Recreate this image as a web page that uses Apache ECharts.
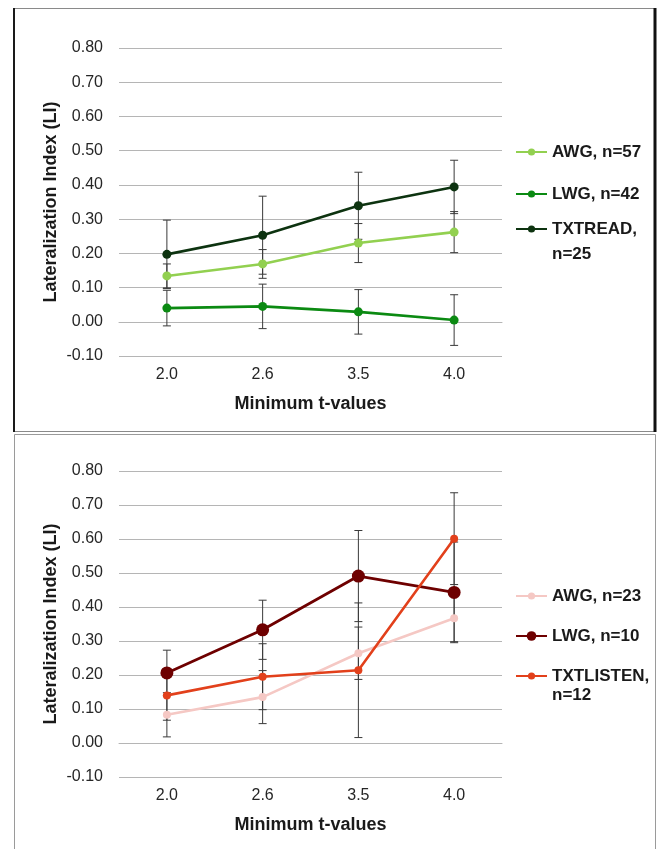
<!DOCTYPE html>
<html><head><meta charset="utf-8">
<script src="https://cdn.jsdelivr.net/npm/echarts@6/dist/echarts.min.js"></script>
<style>html,body{margin:0;padding:0;background:#fff}#c{width:659px;height:849px}</style>
</head><body><div id="c"></div>
<script>
// ---- data ----
const categories = ['2.0', '2.6', '3.5', '4.0'];
const xAxisTitle = 'Minimum t-values';
const yAxisTitle = 'Lateralization Index (LI)';
const yMin = -0.1, yMax = 0.8, yStep = 0.1;

// top panel (reading)
const readNames = ['AWG, n=57', 'LWG, n=42', 'TXTREAD,\nn=25'];
const readAWG = [0.134, 0.169, 0.230, 0.262];
const readAWGErr = [0.035, 0.042, 0.057, 0.060];
const readLWG = [0.040, 0.045, 0.029, 0.005];
const readLWGErr = [0.052, 0.065, 0.065, 0.074];
const readTXT = [0.197, 0.253, 0.339, 0.394];
const readTXTErr = [0.100, 0.114, 0.098, 0.078];

// bottom panel (listening)
const listenNames = ['AWG, n=23', 'LWG, n=10', 'TXTLISTEN,\nn=12'];
const listenAWG = [0.083, 0.135, 0.264, 0.367];
const listenAWGErr = [0.065, 0.078, 0.077, 0.069];
const listenLWG = [0.206, 0.333, 0.491, 0.443];
const listenLWGErr = [0.067, 0.087, 0.134, 0.148];
const listenTXT = [0.140, 0.195, 0.214, 0.601];
const listenTXTErr = [0.073, 0.097, 0.198, 0.135];

// ---- styling ----
const FONT = '"Liberation Sans", Arial, sans-serif';
const readColors = ['#92d050', '#0b8a12', '#0d3310'];
const listenColors = ['#f5c8c4', '#6e0000', '#e2401b'];
const gridColor = '#b5b5b5';

const chart = echarts.init(document.getElementById('c'), null, {renderer: 'canvas'});

function xAxisDef(gi) {
  return {
    type: 'category', gridIndex: gi, data: categories, boundaryGap: true,
    axisLine: {show: true, lineStyle: {color: gridColor, width: 1}},
    axisTick: {show: false},
    axisLabel: {fontFamily: FONT, fontSize: 16, color: '#262626', margin: 11},
    name: xAxisTitle, nameLocation: 'middle', nameGap: 39,
    nameTextStyle: {fontFamily: FONT, fontSize: 18, fontWeight: 'bold', color: '#1a1a1a'}
  };
}
function yAxisDef(gi) {
  return {
    type: 'value', gridIndex: gi, min: yMin, max: yMax, interval: yStep,
    axisLine: {show: false}, axisTick: {show: false},
    splitLine: {show: true, lineStyle: {color: gridColor, width: 1}},
    axisLabel: {fontFamily: FONT, fontSize: 16, color: '#262626', margin: 16,
      formatter: v => (Math.round(v * 100) / 100).toFixed(2)},
    name: yAxisTitle, nameLocation: 'middle', nameGap: 59, nameRotate: 90,
    nameMoveOverlap: false,
    nameTextStyle: {fontFamily: FONT, fontSize: 18, fontWeight: 'bold', color: '#1a1a1a'}
  };
}

function lineSeries(name, data, color, gi, size, width) {
  return {
    type: 'line', name: name, data: data, xAxisIndex: gi, yAxisIndex: gi,
    symbol: 'circle', symbolSize: size, z: 3,
    lineStyle: {color: color, width: width},
    itemStyle: {color: color},
    emphasis: {disabled: true}
  };
}

function errRender(params, api) {
  const x = api.value(0);
  const lo = api.coord([x, api.value(1)]);
  const hi = api.coord([x, api.value(2)]);
  const w = 4;
  const style = {stroke: '#3a3a3a', lineWidth: 1};
  return {type: 'group', children: [
    {type: 'line', shape: {x1: lo[0], y1: lo[1], x2: hi[0], y2: hi[1]}, style: style},
    {type: 'line', shape: {x1: lo[0] - w, y1: lo[1], x2: lo[0] + w, y2: lo[1]}, style: style},
    {type: 'line', shape: {x1: hi[0] - w, y1: hi[1], x2: hi[0] + w, y2: hi[1]}, style: style}
  ]};
}
function errData(vals, errs) {
  return vals.map((v, i) => [i, v - errs[i], v + errs[i]]);
}
function errSeries(vals, errs, gi) {
  return {
    type: 'custom', xAxisIndex: gi, yAxisIndex: gi, z: 2, silent: true,
    renderItem: errRender, data: errData(vals, errs),
    encode: {x: 0, y: [1, 2]}
  };
}

function legendDef(name, iconY, itemHeight, multi, lh) {
  const ts = {fontFamily: FONT, fontSize: 17, fontWeight: 'bold', color: '#1a1a1a', lineHeight: lh};
  const def = {
    data: [name], orient: 'vertical', left: 515, padding: 0,
    itemWidth: 31, itemHeight: itemHeight, itemGap: 0, selectedMode: false,
    textStyle: ts
  };
  if (multi) {
    // empty first line so that the first visible line sits on the icon
    def.formatter = n => '\n' + n;
    def.top = iconY - 1.5 * lh;
  } else {
    def.top = iconY - lh / 2;
  }
  return def;
}

const option = {
  animation: false,
  backgroundColor: '#ffffff',
  grid: [
    {left: 119, width: 383, top: 48, height: 308},
    {left: 119, width: 383, top: 471, height: 306}
  ],
  xAxis: [xAxisDef(0), xAxisDef(1)],
  yAxis: [yAxisDef(0), yAxisDef(1)],
  legend: [
    legendDef(readNames[0], 152, 9, false, 20),
    legendDef(readNames[1], 194, 9, false, 20),
    legendDef(readNames[2], 229, 9, true, 25),
    legendDef(listenNames[0], 596, 9, false, 20),
    legendDef(listenNames[1], 636, 12, false, 20),
    legendDef(listenNames[2], 676, 9, true, 19)
  ],
  graphic: [
    // top panel frame
    {type: 'rect', shape: {x: 13.5, y: 8.5, width: 641, height: 423}, style: {fill: 'none', stroke: '#8a8a8a', lineWidth: 1}, z: 10},
    {type: 'line', shape: {x1: 14, y1: 8, x2: 14, y2: 432}, style: {stroke: '#1a1a1a', lineWidth: 2}, z: 11},
    {type: 'line', shape: {x1: 655, y1: 8, x2: 655, y2: 432}, style: {stroke: '#111', lineWidth: 3}, z: 11},
    // bottom panel frame
    {type: 'rect', shape: {x: 14.5, y: 434.5, width: 641, height: 430}, style: {fill: 'none', stroke: '#9a9a9a', lineWidth: 1}, z: 10}
  ],
  series: [
    errSeries(readAWG, readAWGErr, 0),
    errSeries(readLWG, readLWGErr, 0),
    errSeries(readTXT, readTXTErr, 0),
    lineSeries(readNames[0], readAWG, readColors[0], 0, 9, 2.6),
    lineSeries(readNames[1], readLWG, readColors[1], 0, 9, 2.6),
    lineSeries(readNames[2], readTXT, readColors[2], 0, 9, 2.6),
    errSeries(listenAWG, listenAWGErr, 1),
    errSeries(listenLWG, listenLWGErr, 1),
    errSeries(listenTXT, listenTXTErr, 1),
    lineSeries(listenNames[0], listenAWG, listenColors[0], 1, 8, 2.6),
    lineSeries(listenNames[1], listenLWG, listenColors[1], 1, 13, 2.8),
    lineSeries(listenNames[2], listenTXT, listenColors[2], 1, 8, 2.6)
  ]
};
chart.setOption(option);
</script></body></html>
